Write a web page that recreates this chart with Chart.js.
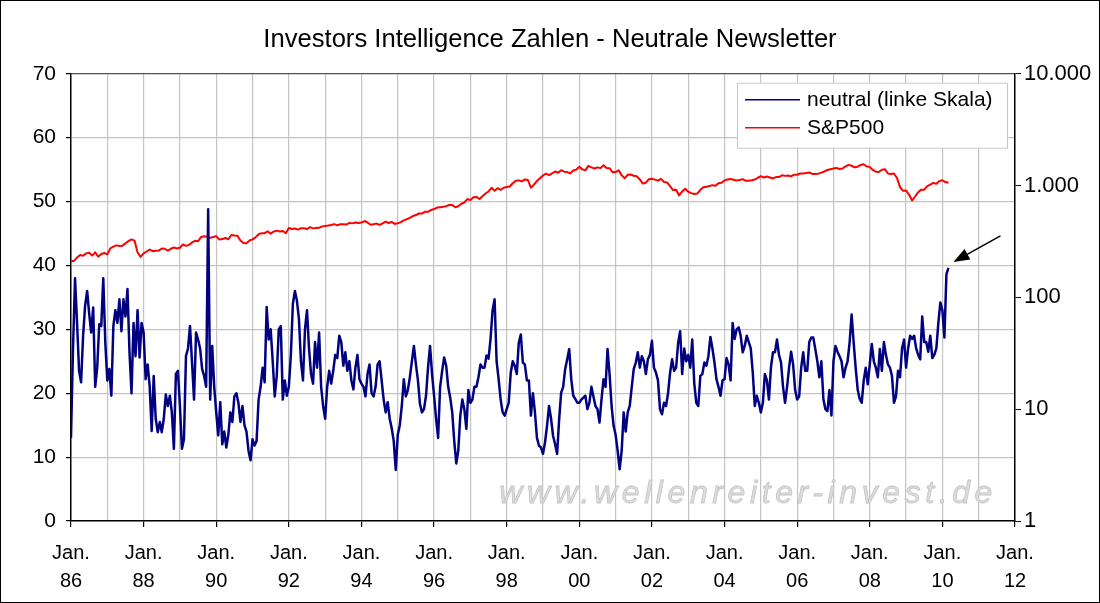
<!DOCTYPE html>
<html>
<head>
<meta charset="utf-8">
<script src="https://cdn.jsdelivr.net/npm/chart.js@4"></script>
<style>
  body { margin: 0; background: #fff; }
  #box { width: 1098px; height: 601px; border: 1px solid #000; background: #fff; }
</style>
</head>
<body>
<div id="box"><canvas id="chart" width="1098" height="601"></canvas></div>
<script>
// Investors Intelligence neutral share (%), 18 readings per year from Jan. 1986
const neutralStart = 1986;
const neutralPerYear = 18;
const neutral = [
  13, 27, 38, 31, 23.5, 21.7, 29, 33.7, 36, 32.5, 29.5, 33.4, 21, 24, 30.8, 30.5, 38, 28,          // 1986
  22, 23.8, 19.6, 30.5, 33, 31, 34.7, 29.7, 34.7, 32, 36.3, 26.4, 20, 31, 25.8, 33, 25.6, 31,      // 1987
  29.5, 22.2, 24.5, 21.1, 14.1, 22.7, 16, 13.9, 15.5, 13.9, 16, 19.8, 18, 19.6, 17, 11.3, 23, 23.5, // 1988
  18, 11.3, 12.8, 25.8, 27, 30.5, 24.8, 19, 29.5, 28.4, 27, 23.8, 22.7, 21, 48.8, 19, 27.4, 21,    // 1989
  17, 13.4, 18.6, 12, 14, 11.5, 13.5, 17, 15.5, 19.5, 20, 18.5, 15.5, 18, 15, 14, 11, 9.5,          // 1990
  12.8, 11.8, 12.5, 19, 21, 24, 21.7, 33.5, 28.4, 30, 25, 19.5, 22.7, 30, 30.5, 19, 22, 19.6,      // 1991
  21, 26, 34, 36, 34.5, 31.6, 25, 22, 30, 33, 27, 23, 21.5, 28, 24, 29.5, 21, 18,                  // 1992
  16, 21, 23.5, 21.5, 23.5, 26, 25.5, 29, 28, 24.3, 26.4, 23.5, 25, 22, 20.6, 24, 26, 22.2,        // 1993
  21.5, 21, 19.5, 23, 24.5, 20, 19.5, 21, 24.5, 25, 22, 19, 17, 18.6, 16, 14.5, 12.5, 8,           // 1994
  13.5, 15, 18, 22.2, 19.5, 20.5, 22.5, 25, 27.4, 24.5, 22, 18.3, 17, 17.5, 19.6, 24, 27.4, 23,    // 1995
  19.6, 16, 13, 21, 23.5, 25.6, 24.3, 21, 19.3, 17, 12.5, 9, 11, 16.5, 19, 17.5, 14.4, 20.5,       // 1996
  18.5, 19, 21, 21, 22.5, 24.5, 24, 24, 25.9, 25.4, 28.5, 33, 34.7, 25, 22.2, 19, 17, 16.5,        // 1997
  17.5, 18.5, 23.2, 25, 24.3, 23, 27.9, 29.2, 24.8, 24.5, 22, 22, 16.5, 20, 17, 13, 11.8, 11.5,    // 1998
  10.5, 12.3, 14.9, 18, 16, 13.3, 12, 10.5, 15.9, 20.1, 21, 23.8, 25.3, 26.9, 22.2, 19.6, 19.1, 18.5, // 1999
  18.5, 19, 19.3, 19.6, 17.5, 18.5, 21, 19.5, 18, 17.5, 15.4, 19, 22.2, 21, 26.9, 23, 18, 14.9,    // 2000
  13.5, 11, 8.1, 11, 17, 14, 17, 18, 21, 23.8, 24.8, 26.4, 24, 25.8, 25, 23, 25.3, 26,             // 2001
  28.2, 24, 23.2, 22, 17.5, 16.7, 18.5, 18, 20, 23.2, 25.3, 23.5, 24, 27.9, 29.7, 23, 27, 25,      // 2002
  26, 24, 28.4, 21.5, 18.5, 18, 22.7, 23, 24.8, 24.3, 25.8, 28.8, 27, 24.8, 22.2, 21, 19.6, 22,    // 2003
  22.2, 25.5, 24.5, 22, 31, 28.5, 30, 30.3, 29, 26.4, 27.4, 29, 28, 27, 23.2, 18, 19.6, 18.5,      // 2004
  17, 18.5, 23, 22, 19, 24, 26.4, 26.4, 28.4, 26, 24.8, 21, 18.5, 21, 24, 26.5, 24.5, 20.5,        // 2005
  19, 19.5, 24, 26.4, 23.5, 23.5, 28, 28.7, 28.7, 26.9, 25, 22.5, 25, 19.1, 17.5, 17.2, 20.5, 16.5, // 2006
  25, 27.4, 26.5, 25.8, 25, 22.5, 24, 25, 27.9, 32.3, 28, 24, 20.6, 19.1, 18.5, 22, 24, 21.4,      // 2007
  24.5, 27.7, 25, 24, 22.5, 26.9, 23.5, 28, 26, 24.5, 24, 22.7, 18.5, 19.5, 23.5, 22.5, 27, 28.4,  // 2008
  24, 27, 29, 28.5, 29, 27, 26, 25.3, 32, 28, 28, 26.5, 29, 25.5, 26, 27, 31, 34.2,                // 2009
  33, 28.7, 38.6, 39.6                                                                             // 2010
];

// S&P 500, monthly, from the end of Dec. 1985 (right log scale)
const spxStart = 1986;
const spxPerYear = 12;
const spx = [
  211.3,
  211.8, 226.9, 238.9, 235.5, 247.4, 250.8, 236.1, 252.9, 231.3, 244.0, 249.2, 242.2,
  274.1, 284.2, 291.7, 288.4, 290.1, 304.0, 318.7, 329.8, 321.8, 251.8, 230.3, 247.1,
  257.1, 267.8, 258.9, 261.3, 262.2, 273.5, 272.0, 261.5, 271.9, 279.0, 273.7, 277.7,
  297.5, 288.9, 294.9, 309.6, 320.5, 318.0, 346.1, 351.5, 349.2, 340.4, 346.0, 353.4,
  329.1, 331.9, 339.9, 330.8, 361.2, 358.0, 356.2, 322.6, 306.1, 304.0, 322.2, 330.2,
  343.9, 367.1, 375.2, 375.3, 389.8, 371.2, 387.8, 395.4, 387.9, 392.5, 375.2, 417.1,
  408.8, 412.7, 403.7, 415.0, 415.4, 408.1, 424.2, 414.0, 417.8, 418.7, 431.4, 435.7,
  438.8, 443.4, 451.7, 440.2, 450.2, 450.5, 448.1, 463.6, 458.9, 467.8, 461.8, 466.5,
  481.6, 467.1, 445.8, 450.9, 456.5, 444.3, 458.3, 475.5, 462.7, 472.4, 453.7, 459.3,
  470.4, 487.4, 500.7, 514.7, 533.4, 544.8, 562.1, 561.9, 584.4, 581.5, 605.4, 615.9,
  636.0, 640.4, 645.5, 654.2, 669.1, 670.6, 640.0, 652.0, 687.3, 705.3, 757.0, 740.7,
  786.2, 790.8, 757.1, 801.3, 848.3, 885.1, 954.3, 899.5, 947.3, 914.6, 955.4, 970.4,
  980.3, 1049.3, 1101.8, 1111.8, 1090.8, 1133.8, 1120.7, 957.3, 1017.0, 1098.7, 1163.6, 1229.2,
  1279.6, 1238.3, 1286.4, 1335.2, 1301.8, 1372.7, 1328.7, 1320.4, 1282.7, 1362.9, 1388.9, 1469.3,
  1394.5, 1366.4, 1498.6, 1452.4, 1420.6, 1454.6, 1430.8, 1517.7, 1436.5, 1429.4, 1315.2, 1320.3,
  1366.0, 1239.9, 1160.3, 1249.5, 1255.8, 1224.4, 1211.2, 1133.6, 1040.9, 1059.8, 1139.5, 1148.1,
  1130.2, 1106.7, 1147.4, 1076.9, 1067.1, 989.8, 911.6, 916.1, 815.3, 885.8, 936.3, 879.8,
  855.7, 841.2, 848.2, 916.9, 963.6, 974.5, 990.3, 1008.0, 996.0, 1050.7, 1058.2, 1111.9,
  1131.1, 1144.9, 1126.2, 1107.3, 1120.7, 1140.8, 1101.7, 1104.2, 1114.6, 1130.2, 1173.8, 1211.9,
  1181.3, 1203.6, 1180.6, 1156.9, 1191.5, 1191.3, 1234.2, 1220.3, 1228.8, 1207.0, 1249.5, 1248.3,
  1280.1, 1280.7, 1294.8, 1310.6, 1270.1, 1270.2, 1276.7, 1303.8, 1335.9, 1377.9, 1400.6, 1418.3,
  1438.2, 1406.8, 1420.9, 1482.4, 1530.6, 1503.4, 1455.3, 1474.0, 1526.8, 1549.4, 1481.1, 1468.4,
  1378.6, 1330.6, 1322.7, 1385.6, 1400.4, 1280.0, 1267.4, 1282.8, 1166.4, 968.8, 896.2, 903.3,
  825.9, 735.1, 797.9, 872.8, 919.1, 919.3, 987.5, 1020.6, 1057.1, 1036.2, 1095.6, 1115.1,
  1073.9, 1060
];

const xRange = [1986, 2012];
const leftRange = [0, 70];
const rightTicks = [1, 10, 100, 1000, 10000];
const labels = ['neutral (linke Skala)', 'S&P500'];
const chartTitle = 'Investors Intelligence Zahlen - Neutrale Newsletter';
const watermark = 'www.wellenreiter-invest.de';

const FONT = "'Liberation Sans', Arial, sans-serif";
Chart.defaults.font.family = FONT;
Chart.defaults.color = '#000';

const GRID = '#c4c4c4';

// legend box drawn inside the plot area, top right
const legendBox = {
  id: 'legendBox',
  afterDatasetsDraw(chart) {
    const { ctx, chartArea } = chart;
    const w = 270, h = 65;
    const x0 = chartArea.right - 8 - w;
    const y0 = chartArea.top + 9;
    ctx.save();
    ctx.fillStyle = '#fff';
    ctx.fillRect(x0, y0, w, h);
    ctx.strokeStyle = '#c8c8c8';
    ctx.lineWidth = 1;
    ctx.strokeRect(x0 + 0.5, y0 + 0.5, w, h);
    ctx.font = '21px ' + FONT;
    ctx.textBaseline = 'middle';
    chart.data.datasets.forEach((ds, i) => {
      const y = y0 + 17 + i * 28;
      ctx.strokeStyle = ds.borderColor;
      ctx.lineWidth = 1.6;
      ctx.beginPath();
      ctx.moveTo(x0 + 8, y);
      ctx.lineTo(x0 + 63, y);
      ctx.stroke();
      ctx.fillStyle = '#000';
      ctx.fillText(ds.label, x0 + 70, y);
    });
    ctx.restore();
  }
};

// faint site name behind the lines
const watermarkText = {
  id: 'watermarkText',
  beforeDatasetsDraw(chart) {
    const { ctx, chartArea } = chart;
    ctx.save();
    ctx.font = 'italic 32px ' + FONT;
    ctx.letterSpacing = '4.6px';
    ctx.textAlign = 'right';
    ctx.textBaseline = 'alphabetic';
    ctx.fillStyle = '#dcdcdc';
    ctx.strokeStyle = '#c6c6c6';
    ctx.lineWidth = 0.8;
    const x = chartArea.right - 18, y = chartArea.bottom - 18;
    ctx.fillText(watermark, x, y);
    ctx.strokeText(watermark, x, y);
    ctx.restore();
  }
};

// arrow pointing at the latest reading
const arrow = {
  id: 'arrow',
  afterDatasetsDraw(chart) {
    const pts = chart.getDatasetMeta(0).data;
    const last = pts[pts.length - 1];
    const tipX = last.x + 5, tipY = last.y - 6;
    const tailX = tipX + 47, tailY = tipY - 26;
    const ang = Math.atan2(tipY - tailY, tipX - tailX);
    const ctx = chart.ctx;
    ctx.save();
    ctx.strokeStyle = '#000';
    ctx.fillStyle = '#000';
    ctx.lineWidth = 1.5;
    ctx.beginPath();
    ctx.moveTo(tailX, tailY);
    ctx.lineTo(tipX - 10 * Math.cos(ang), tipY - 10 * Math.sin(ang));
    ctx.stroke();
    ctx.beginPath();
    ctx.moveTo(tipX, tipY);
    ctx.lineTo(tipX - 16 * Math.cos(ang) + 6 * Math.sin(ang), tipY - 16 * Math.sin(ang) - 6 * Math.cos(ang));
    ctx.lineTo(tipX - 16 * Math.cos(ang) - 6 * Math.sin(ang), tipY - 16 * Math.sin(ang) + 6 * Math.cos(ang));
    ctx.closePath();
    ctx.fill();
    ctx.restore();
  }
};

const neutralPoints = neutral.map((v, i) => ({ x: neutralStart + i / neutralPerYear, y: v }));
const spxPoints = spx.map((v, i) => ({ x: spxStart + i / spxPerYear, y: v }));

new Chart(document.getElementById('chart'), {
  type: 'line',
  data: {
    datasets: [
      {
        label: labels[0],
        data: neutralPoints,
        yAxisID: 'y',
        borderColor: '#000080',
        borderWidth: 2.5,
        pointRadius: 0,
        tension: 0,
        borderJoinStyle: 'round'
      },
      {
        label: labels[1],
        data: spxPoints,
        yAxisID: 'y1',
        borderColor: '#ff0000',
        borderWidth: 2,
        pointRadius: 0,
        tension: 0,
        borderJoinStyle: 'round'
      }
    ]
  },
  options: {
    responsive: false,
    animation: false,
    devicePixelRatio: 1,
    layout: { padding: 0 },
    scales: {
      x: {
        type: 'linear',
        min: xRange[0],
        max: xRange[1],
        afterFit(scale) { scale.height = 81; },
        ticks: {
          stepSize: 1,
          autoSkip: false,
          maxRotation: 0,
          padding: 12,
          font: { size: 20, lineHeight: 1.4 },
          callback: v => v % 2 === 0 ? ['Jan.', String(v % 100).padStart(2, '0')] : ''
        },
        grid: {
          color: c => (c.tick && (c.tick.value === xRange[0] || c.tick.value === xRange[1])) ? 'rgba(0,0,0,0)' : GRID,
          lineWidth: 1.2,
          tickLength: 6,
          tickColor: c => (c.tick && c.tick.value % 2 === 0) ? '#000' : 'rgba(0,0,0,0)'
        },
        border: { color: '#000', width: 1.5 }
      },
      y: {
        position: 'left',
        min: leftRange[0],
        max: leftRange[1],
        afterFit(scale) { scale.width = 70; },
        ticks: { stepSize: 10, padding: 10, font: { size: 21 } },
        grid: {
          color: c => (c.tick && c.tick.value === leftRange[1]) ? '#505050' : GRID,
          lineWidth: 1.2,
          tickLength: 5,
          tickColor: '#000'
        },
        border: { color: '#000', width: 1.5 }
      },
      y1: {
        type: 'logarithmic',
        position: 'right',
        min: rightTicks[0],
        max: rightTicks[rightTicks.length - 1],
        afterFit(scale) { scale.width = 84; },
        afterBuildTicks(scale) { scale.ticks = rightTicks.map(v => ({ value: v })); },
        ticks: {
          padding: 3,
          font: { size: 22 },
          callback: v => Number(v).toLocaleString('de-DE')
        },
        grid: { drawOnChartArea: false, tickLength: 6, tickColor: '#000' },
        border: { color: '#000', width: 1.5 }
      }
    },
    plugins: {
      legend: { display: false },
      tooltip: { enabled: false },
      title: {
        display: true,
        text: chartTitle,
        color: '#000',
        font: { size: 25.6, weight: 'normal', lineHeight: 1.2 },
        padding: { top: 24, bottom: 18 }
      }
    }
  },
  plugins: [watermarkText, legendBox, arrow]
});
</script>
</body>
</html>
